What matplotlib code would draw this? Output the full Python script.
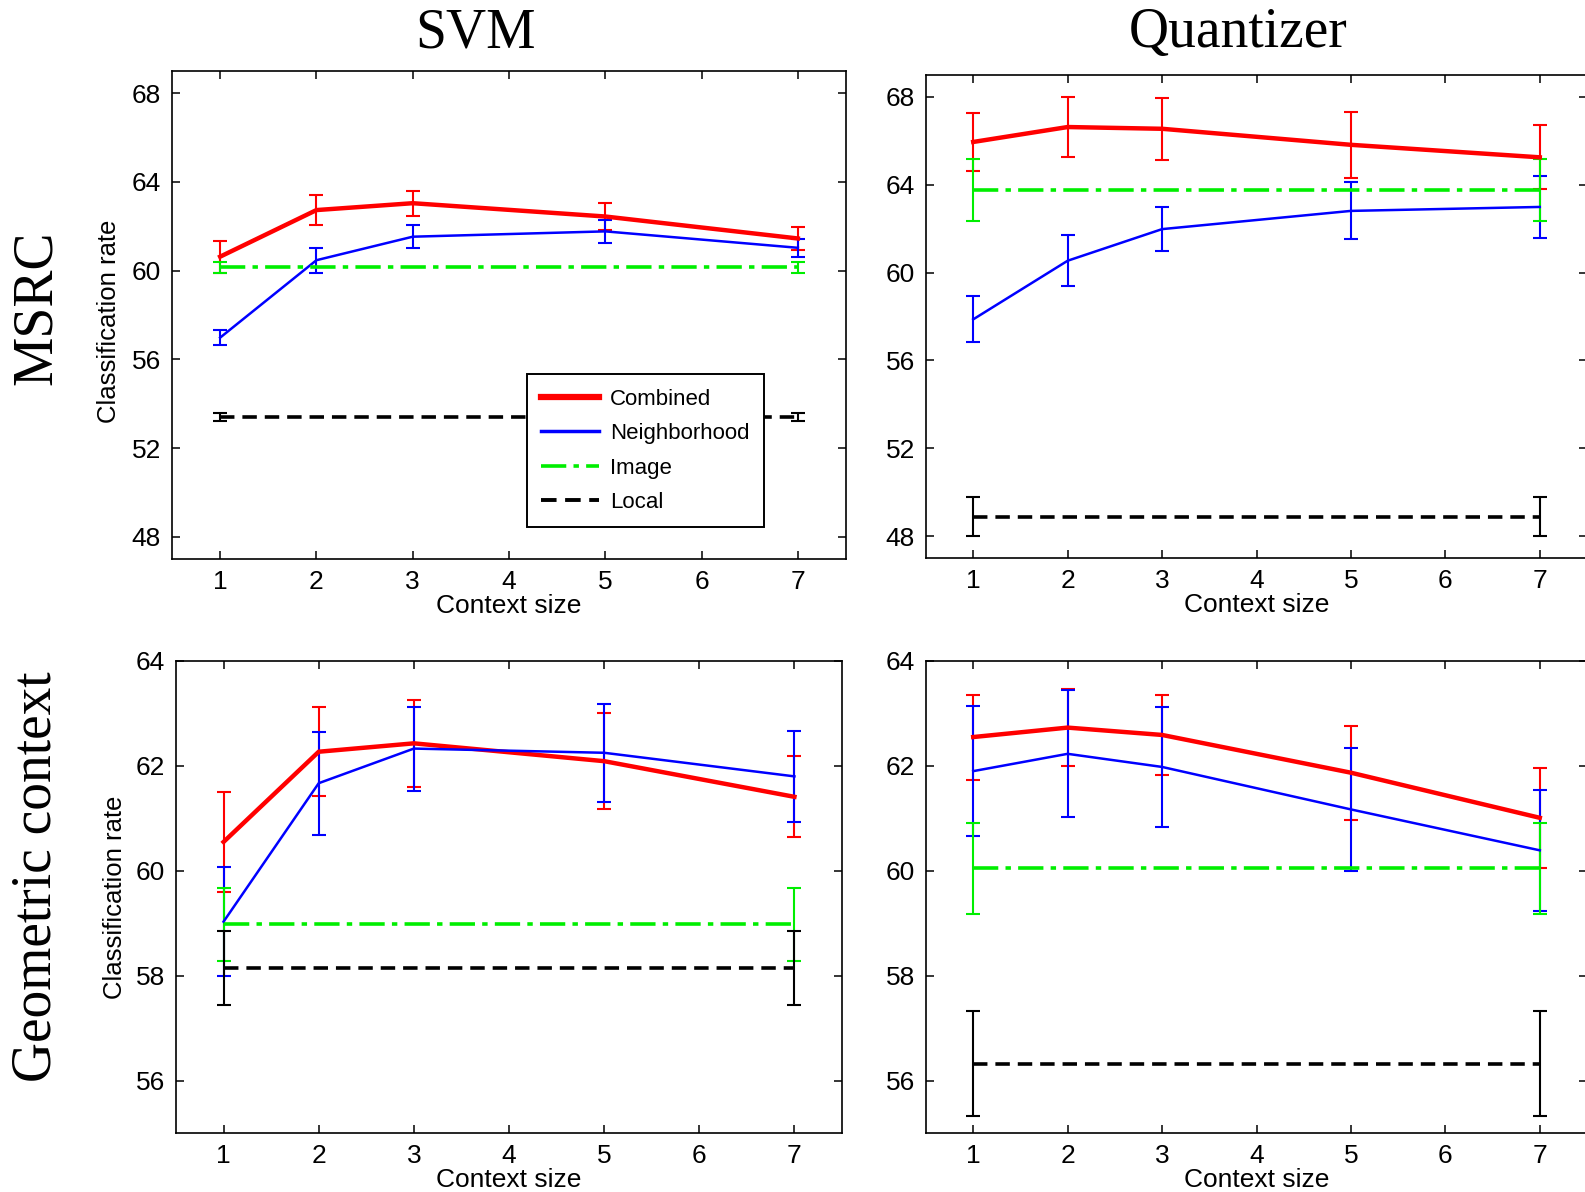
import matplotlib
matplotlib.use("Agg")
import matplotlib.pyplot as plt
from matplotlib.lines import Line2D

# context sizes evaluated
context = [1, 2, 3, 5, 7]
ends = [1, 7]

# MSRC / SVM
msrc_svm_comb = [60.63, 62.73, 63.04, 62.44, 61.45]
msrc_svm_comb_err = [0.72, 0.67, 0.57, 0.63, 0.50]
msrc_svm_neigh = [56.98, 60.47, 61.53, 61.77, 61.03]
msrc_svm_neigh_err = [0.35, 0.57, 0.52, 0.52, 0.40]
msrc_svm_image = 60.16
msrc_svm_image_err = 0.25
msrc_svm_local = 53.39
msrc_svm_local_err = 0.18

# MSRC / Quantizer
msrc_q_comb = [65.95, 66.63, 66.55, 65.82, 65.25]
msrc_q_comb_err = [1.30, 1.36, 1.40, 1.50, 1.46]
msrc_q_neigh = [57.87, 60.54, 61.98, 62.81, 62.99]
msrc_q_neigh_err = [1.05, 1.15, 1.00, 1.30, 1.40]
msrc_q_image = 63.76
msrc_q_image_err = 1.42
msrc_q_local = 48.89
msrc_q_local_err = 0.88

# Geometric context / SVM
geo_svm_comb = [60.55, 62.27, 62.43, 62.09, 61.41]
geo_svm_comb_err = [0.95, 0.85, 0.83, 0.91, 0.77]
geo_svm_neigh = [59.03, 61.67, 62.33, 62.25, 61.80]
geo_svm_neigh_err = [1.04, 0.98, 0.80, 0.93, 0.87]
geo_svm_image = 58.98
geo_svm_image_err = 0.70
geo_svm_local = 58.15
geo_svm_local_err = 0.70

# Geometric context / Quantizer
geo_q_comb = [62.55, 62.73, 62.59, 61.87, 61.01]
geo_q_comb_err = [0.81, 0.73, 0.76, 0.90, 0.95]
geo_q_neigh = [61.90, 62.23, 61.98, 61.17, 60.39]
geo_q_neigh_err = [1.24, 1.21, 1.15, 1.17, 1.15]
geo_q_image = 60.05
geo_q_image_err = 0.87
geo_q_local = 56.32
geo_q_local_err = 1.00

W, H = 1585, 1192
fig = plt.figure(figsize=(W / 100, H / 100), dpi=100)

sans = "Liberation Sans"
serif = "Liberation Serif"
green = "#00ee00"
img_dash = (7, 2, 1.5, 2)
loc_dash = (4, 2.2)


def px_axes(left, top, right, bottom):
    return fig.add_axes([left / W, 1 - bottom / H, (right - left) / W, (bottom - top) / H])


def draw_panel(ax, comb, comb_err, neigh, neigh_err, img, img_err, loc, loc_err, ylim, yticks, ylabel):
    ax.errorbar(context, comb, yerr=comb_err, color="red", lw=3.2, elinewidth=1.5,
                capsize=5, capthick=1.5)
    ax.errorbar(context, neigh, yerr=neigh_err, color="blue", lw=1.8, elinewidth=1.5,
                capsize=5, capthick=1.5)
    ax.errorbar(ends, [img, img], yerr=[img_err, img_err], color=green, lw=2.6,
                elinewidth=1.5, capsize=5, capthick=1.5, dashes=img_dash)
    ax.errorbar(ends, [loc, loc], yerr=[loc_err, loc_err], color="black", lw=2.6,
                elinewidth=1.5, capsize=5, capthick=1.5, dashes=loc_dash)
    ax.set_xlim(0.5, 7.5)
    ax.set_ylim(*ylim)
    ax.set_xticks(range(1, 8))
    ax.set_yticks(yticks)
    ax.tick_params(direction="in", top=True, right=True, length=6, width=1.1,
                   labelsize=19, pad=8)
    for lab in ax.get_xticklabels() + ax.get_yticklabels():
        lab.set_fontfamily(sans)
    for s in ax.spines.values():
        s.set_linewidth(1.2)
    ax.set_xlabel("Context size", fontsize=19, family=sans, labelpad=0)
    if ylabel:
        ax.set_ylabel("Classification rate", fontsize=18.5, family=sans)


ax1 = px_axes(172, 71, 846, 559)
draw_panel(ax1, msrc_svm_comb, msrc_svm_comb_err, msrc_svm_neigh, msrc_svm_neigh_err,
           msrc_svm_image, msrc_svm_image_err, msrc_svm_local, msrc_svm_local_err,
           (47, 69), [48, 52, 56, 60, 64, 68], True)
ax1.yaxis.set_label_coords(-0.075, 0.487)

ax2 = px_axes(926, 75, 1587, 558)
draw_panel(ax2, msrc_q_comb, msrc_q_comb_err, msrc_q_neigh, msrc_q_neigh_err,
           msrc_q_image, msrc_q_image_err, msrc_q_local, msrc_q_local_err,
           (47, 69), [48, 52, 56, 60, 64, 68], False)

ax3 = px_axes(176, 661, 842, 1133)
draw_panel(ax3, geo_svm_comb, geo_svm_comb_err, geo_svm_neigh, geo_svm_neigh_err,
           geo_svm_image, geo_svm_image_err, geo_svm_local, geo_svm_local_err,
           (55, 64), [56, 58, 60, 62, 64], True)
ax3.yaxis.set_label_coords(-0.073, 0.5)

ax4 = px_axes(926, 661, 1587, 1133)
draw_panel(ax4, geo_q_comb, geo_q_comb_err, geo_q_neigh, geo_q_neigh_err,
           geo_q_image, geo_q_image_err, geo_q_local, geo_q_local_err,
           (55, 64), [56, 58, 60, 62, 64], False)

handles = [
    Line2D([], [], color="red", lw=4.5),
    Line2D([], [], color="blue", lw=2.5),
    Line2D([], [], color=green, lw=2.6, dashes=img_dash),
    Line2D([], [], color="black", lw=2.8, dashes=loc_dash),
]
labels = ["Combined", "Neighborhood", "Image", "Local"]
leg = ax1.legend(handles, labels, loc="lower left", bbox_to_anchor=(0.526, 0.065),
                 prop={"family": sans, "size": 16}, handlelength=2.6, handletextpad=0.5,
                 labelspacing=0.6, borderpad=0.65, borderaxespad=0,
                 fancybox=False, framealpha=1, edgecolor="black")
leg.get_frame().set_linewidth(1.4)

# column and row headings
fig.text(475 / W, 1 - 33 / H, "SVM", family=serif, fontsize=40, ha="center", va="center")
fig.text(1238 / W, 1 - 33 / H, "Quantizer", family=serif, fontsize=40, ha="center", va="center")
fig.text(37 / W, 1 - 308 / H, "MSRC", family=serif, fontsize=40, ha="center", va="center", rotation=90)
fig.text(37 / W, 1 - 877 / H, "Geometric context", family=serif, fontsize=40, ha="center",
         va="center", rotation=90)

fig.savefig("out.png", dpi=100)
